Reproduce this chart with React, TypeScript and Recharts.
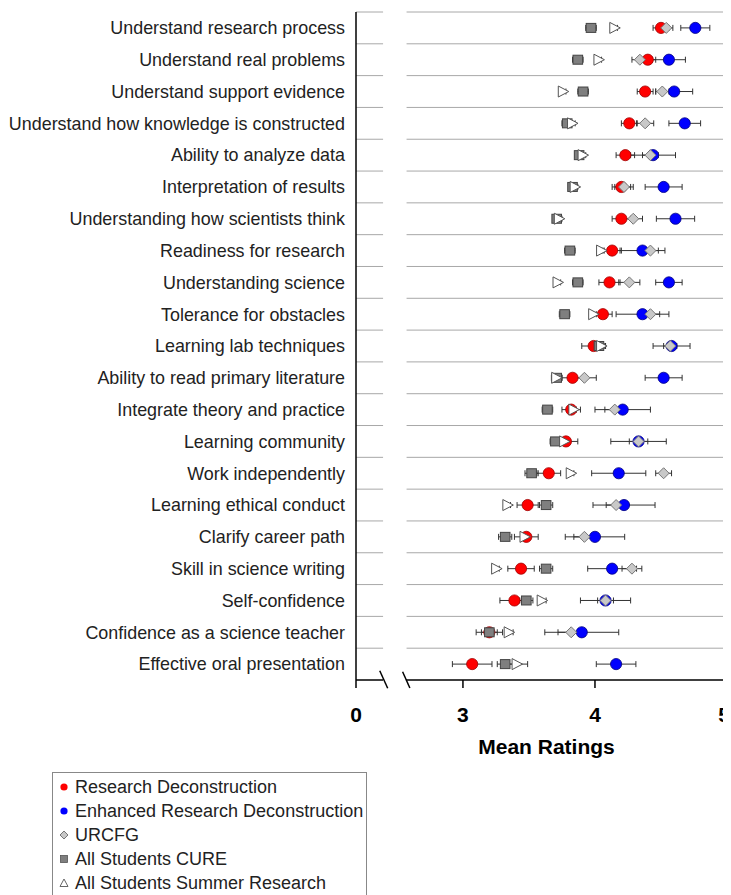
import React from 'react';
import { ComposedChart, Scatter, XAxis, YAxis, ErrorBar, ReferenceLine } from 'recharts';

const categories = [
  'Understand research process',
  'Understand real problems',
  'Understand support evidence',
  'Understand how knowledge is constructed',
  'Ability to analyze data',
  'Interpretation of results',
  'Understanding how scientists think',
  'Readiness for research',
  'Understanding science',
  'Tolerance for obstacles',
  'Learning lab techniques',
  'Ability to read primary literature',
  'Integrate theory and practice',
  'Learning community',
  'Work independently',
  'Learning ethical conduct',
  'Clarify career path',
  'Skill in science writing',
  'Self-confidence',
  'Confidence as a science teacher',
  'Effective oral presentation',
];

const rdValues = [4.50, 4.40, 4.38, 4.26, 4.23, 4.20, 4.20, 4.13, 4.11, 4.06, 3.99, 3.83, 3.82, 3.78, 3.65, 3.49, 3.48, 3.44, 3.39, 3.20, 3.07];
const rdErrors = [0.06, 0.06, 0.06, 0.06, 0.07, 0.07, 0.07, 0.07, 0.08, 0.07, 0.09, 0.08, 0.07, 0.09, 0.09, 0.08, 0.09, 0.10, 0.11, 0.10, 0.15];

const erdValues = [4.76, 4.56, 4.60, 4.68, 4.44, 4.52, 4.61, 4.36, 4.56, 4.36, 4.58, 4.52, 4.21, 4.33, 4.18, 4.22, 4.00, 4.13, 4.08, 3.90, 4.16];
const erdErrors = [0.11, 0.125, 0.14, 0.12, 0.17, 0.14, 0.145, 0.17, 0.10, 0.20, 0.14, 0.14, 0.21, 0.21, 0.205, 0.235, 0.225, 0.185, 0.19, 0.28, 0.15];

const urcfgValues: (number | null)[] = [4.54, 4.34, 4.51, 4.38, 4.42, 4.22, 4.29, 4.42, 4.26, 4.42, 4.57, 3.92, 4.15, 4.33, 4.52, 4.16, 3.92, 4.28, 4.08, 3.82, null];
const urcfgErrors: (number | null)[] = [0.05, 0.06, 0.05, 0.065, 0.06, 0.07, 0.07, 0.06, 0.08, 0.07, 0.05, 0.09, 0.075, 0.07, 0.06, 0.075, 0.08, 0.075, 0.06, 0.1, null];

const cureValues = [3.97, 3.87, 3.91, 3.79, 3.88, 3.83, 3.71, 3.81, 3.87, 3.77, 4.03, 3.71, 3.64, 3.70, 3.52, 3.63, 3.32, 3.63, 3.48, 3.20, 3.32];
const cureErrors = [0.04, 0.04, 0.04, 0.04, 0.03, 0.03, 0.03, 0.04, 0.04, 0.04, 0.05, 0.04, 0.04, 0.04, 0.05, 0.05, 0.05, 0.05, 0.05, 0.06, 0.06];

const summerValues = [4.15, 4.03, 3.76, 3.83, 3.91, 3.85, 3.73, 4.05, 3.72, 3.99, 4.05, 3.71, 3.84, 3.77, 3.82, 3.34, 3.47, 3.255, 3.60, 3.35, 3.41];
const summerErrors = [0.02, 0.02, 0.02, 0.02, 0.02, 0.02, 0.02, 0.02, 0.02, 0.02, 0.02, 0.02, 0.02, 0.02, 0.02, 0.02, 0.02, 0.02, 0.03, 0.03, 0.08];

const xTicks = [2.19, 3, 4, 5];
const xTickLabels = ['0', '3', '4', '5'];

const legendNames = [
  'Research Deconstruction',
  'Enhanced Research Deconstruction',
  'URCFG',
  'All Students CURE',
  'All Students Summer Research',
];

const FONT = '"Liberation Sans", Arial, Helvetica, sans-serif';

const X_MIN = 2.19;
const X_MAX = 5;
const BREAK_L = 2.395;
const BREAK_R = 2.568;

const build = (vals: (number | null)[], errs: (number | null)[]) =>
  vals
    .map((v, i) => ({ x: v, y: i, e: errs[i] }))
    .filter((d) => d.x !== null && d.x !== undefined);

const rdData = build(rdValues, rdErrors);
const erdData = build(erdValues, erdErrors);
const urcfgData = build(urcfgValues, urcfgErrors);
const cureData = build(cureValues, cureErrors);
const summerData = build(summerValues, summerErrors);

const boundaries = categories.map((_, i) => i - 0.5).concat([categories.length - 0.5]);
const centers = categories.map((_, i) => i);

const RedDot = (p: any) => <circle cx={p.cx} cy={p.cy} r={5.6} fill="#ff0000" stroke="#a00000" strokeWidth={0.8} />;
const BlueDot = (p: any) => <circle cx={p.cx} cy={p.cy} r={5.6} fill="#0000ff" stroke="#000080" strokeWidth={0.8} />;
const Diamond = (p: any) => (
  <polygon
    points={`${p.cx},${p.cy - 5.5} ${p.cx + 5.5},${p.cy} ${p.cx},${p.cy + 5.5} ${p.cx - 5.5},${p.cy}`}
    fill="#c8c8c8"
    stroke="#777"
    strokeWidth={1}
  />
);
const Square = (p: any) => (
  <rect x={p.cx - 4.8} y={p.cy - 4.5} width={9.6} height={9} fill="#7f7f7f" stroke="#444" strokeWidth={1} />
);
const TriRight = (p: any) => (
  <polygon
    points={`${p.cx - 5},${p.cy - 5.5} ${p.cx + 5.5},${p.cy} ${p.cx - 5},${p.cy + 5.5}`}
    fill="#ffffff"
    stroke="#555"
    strokeWidth={1}
  />
);

const XTick = (p: any) => {
  const v = p.payload?.value;
  const idx = xTicks.indexOf(v);
  const label = idx >= 0 ? xTickLabels[idx] : String(v);
  const isLast = idx === xTicks.length - 1;
  return (
    <text
      x={p.x}
      y={p.y}
      dy="0.71em"
      dx={isLast ? -3 : 0}
      textAnchor="middle"
      fontSize={21}
      fontWeight="bold"
      fill="#000"
      fontFamily={FONT}
    >
      {label}
    </text>
  );
};

const LegendMarker = ({ i }: { i: number }) => {
  const s = 12;
  const c = s / 2;
  let el: React.ReactNode = null;
  if (i === 0) el = <circle cx={c} cy={c} r={3.6} fill="#ff0000" />;
  if (i === 1) el = <circle cx={c} cy={c} r={3.6} fill="#0000ff" />;
  if (i === 2)
    el = <polygon points={`${c},${c - 4} ${c + 4},${c} ${c},${c + 4} ${c - 4},${c}`} fill="#c8c8c8" stroke="#777" strokeWidth={1} />;
  if (i === 3) el = <rect x={c - 3.5} y={c - 3.5} width={7} height={7} fill="#7f7f7f" stroke="#555" strokeWidth={0.8} />;
  if (i === 4) el = <polygon points={`${c},${c - 4} ${c + 4},${c + 3.5} ${c - 4},${c + 3.5}`} fill="#fff" stroke="#666" strokeWidth={1} />;
  return (
    <svg width={s} height={s} style={{ display: 'block' }}>
      {el}
    </svg>
  );
};

const gridColor = '#a8a8a8';

export default function App() {
  return (
    <div style={{ position: 'relative', width: 723, height: 887, fontFamily: FONT }}>
      <ComposedChart
        width={723}
        height={887}
        margin={{ top: 4, right: 4, bottom: 141, left: 0 }}
        style={{ fontFamily: FONT }}
      >
        <XAxis
          type="number"
          dataKey="x"
          domain={[X_MIN, X_MAX]}
          allowDataOverflow
          ticks={xTicks}
          interval={0}
          axisLine={false}
          tickLine={{ stroke: '#000', strokeWidth: 1.5 }}
          tickSize={8}
          tickMargin={19}
          tick={<XTick />}
          height={74}
          label={{
            value: 'Mean Ratings',
            position: 'insideBottom',
            offset: 0,
            dx: 5,
            style: { fontSize: 21, fontWeight: 'bold', fill: '#000', fontFamily: FONT },
          }}
        />
        <YAxis
          yAxisId="grid"
          type="number"
          dataKey="y"
          domain={[-0.5, categories.length - 0.5]}
          allowDataOverflow
          reversed
          ticks={boundaries}
          interval={0}
          tick={false}
          tickLine={{ stroke: '#000', strokeWidth: 1.5 }}
          tickSize={6}
          axisLine={{ stroke: '#000', strokeWidth: 1.5 }}
          width={8}
        />
        <YAxis
          yAxisId="labels"
          type="number"
          dataKey="y"
          domain={[-0.5, categories.length - 0.5]}
          allowDataOverflow
          reversed
          ticks={centers}
          interval={0}
          tickFormatter={(v: number) => categories[v] ?? ''}
          axisLine={false}
          tickLine={false}
          tickSize={0}
          tickMargin={3}
          tick={{ fontSize: 17.9, fill: '#222', fontFamily: FONT }}
          width={340}
        />

        {boundaries.slice(0, categories.length).map((b) => (
          <ReferenceLine
            key={`gl-${b}`}
            yAxisId="grid"
            segment={[{ x: X_MIN, y: b }, { x: BREAK_L, y: b }]}
            stroke={gridColor}
            strokeWidth={1}
            ifOverflow="visible"
          />
        ))}
        {boundaries.slice(0, categories.length).map((b) => (
          <ReferenceLine
            key={`gr-${b}`}
            yAxisId="grid"
            segment={[{ x: BREAK_R + 0.005, y: b }, { x: X_MAX, y: b }]}
            stroke={gridColor}
            strokeWidth={1}
            ifOverflow="visible"
          />
        ))}
        <ReferenceLine
          yAxisId="grid"
          segment={[{ x: X_MAX, y: -0.5 }, { x: X_MAX, y: categories.length - 0.5 }]}
          stroke="#999"
          strokeWidth={1.2}
          ifOverflow="visible"
        />
        <ReferenceLine
          yAxisId="grid"
          segment={[{ x: X_MIN, y: categories.length - 0.5 }, { x: BREAK_L, y: categories.length - 0.5 }]}
          stroke="#000"
          strokeWidth={1.5}
          ifOverflow="visible"
        />
        <ReferenceLine
          yAxisId="grid"
          segment={[{ x: BREAK_R, y: categories.length - 0.5 }, { x: X_MAX, y: categories.length - 0.5 }]}
          stroke="#000"
          strokeWidth={1.5}
          ifOverflow="visible"
        />
        <ReferenceLine
          yAxisId="grid"
          segment={[{ x: 2.37, y: categories.length - 0.79 }, { x: 2.43, y: categories.length - 0.24 }]}
          stroke="#000"
          strokeWidth={1.5}
          ifOverflow="visible"
        />
        <ReferenceLine
          yAxisId="grid"
          segment={[{ x: 2.543, y: categories.length - 0.76 }, { x: 2.598, y: categories.length - 0.25 }]}
          stroke="#000"
          strokeWidth={1.5}
          ifOverflow="visible"
        />

        <Scatter yAxisId="grid" name={legendNames[0]} data={rdData} shape={RedDot} isAnimationActive={false}>
          <ErrorBar dataKey="e" direction="x" width={3} stroke="#333" strokeWidth={1} />
        </Scatter>
        <Scatter yAxisId="grid" name={legendNames[1]} data={erdData} shape={BlueDot} isAnimationActive={false}>
          <ErrorBar dataKey="e" direction="x" width={3} stroke="#333" strokeWidth={1} />
        </Scatter>
        <Scatter yAxisId="grid" name={legendNames[2]} data={urcfgData} shape={Diamond} isAnimationActive={false}>
          <ErrorBar dataKey="e" direction="x" width={3} stroke="#333" strokeWidth={1} />
        </Scatter>
        <Scatter yAxisId="grid" name={legendNames[3]} data={cureData} shape={Square} isAnimationActive={false}>
          <ErrorBar dataKey="e" direction="x" width={3} stroke="#333" strokeWidth={1} />
        </Scatter>
        <Scatter yAxisId="grid" name={legendNames[4]} data={summerData} shape={TriRight} isAnimationActive={false}>
          <ErrorBar dataKey="e" direction="x" width={3} stroke="#333" strokeWidth={1} />
        </Scatter>
      </ComposedChart>

      <div
        style={{
          position: 'absolute',
          left: 44,
          top: 764,
          width: 315,
          height: 140,
          border: '1px solid #888',
          boxSizing: 'border-box',
          paddingTop: 2,
          background: '#fff',
        }}
      >
        {legendNames.map((name, i) => (
          <div
            key={name}
            style={{
              display: 'flex',
              alignItems: 'center',
              height: 24,
              fontSize: 18,
              color: '#222',
              whiteSpace: 'nowrap',
            }}
          >
            <div style={{ width: 22, display: 'flex', justifyContent: 'center' }}>
              <LegendMarker i={i} />
            </div>
            <span>{name}</span>
          </div>
        ))}
      </div>
    </div>
  );
}
